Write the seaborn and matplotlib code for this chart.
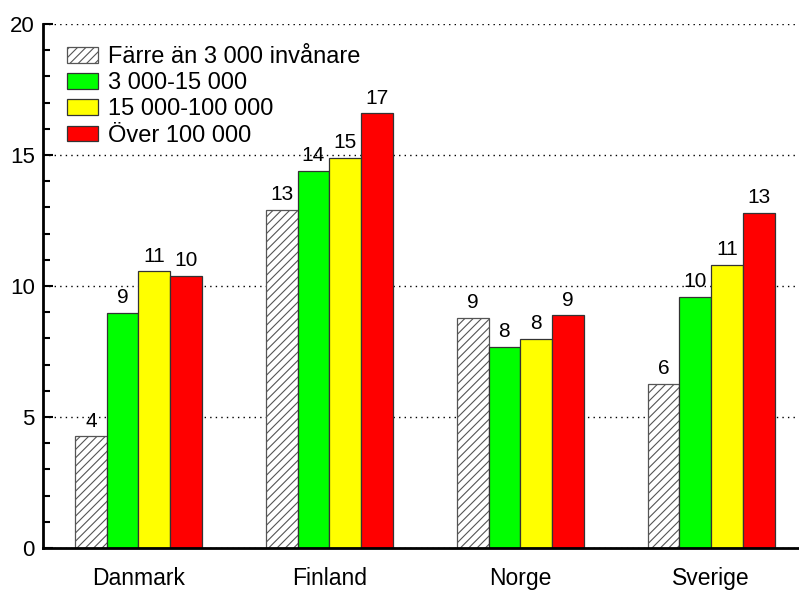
import matplotlib
matplotlib.use("Agg")
import matplotlib.pyplot as plt
import seaborn as sns
import pandas as pd
from matplotlib.ticker import MultipleLocator
from matplotlib.patches import Patch

countries = ["Danmark", "Finland", "Norge", "Sverige"]
groups = ["Färre än 3 000 invånare", "3 000-15 000", "15 000-100 000", "Över 100 000"]
small = [4.27, 12.9, 8.78, 6.26]
mid = [8.97, 14.39, 7.67, 9.58]
large = [10.57, 14.89, 7.98, 10.8]
city = [10.38, 16.6, 8.89, 12.79]
colors = ["white", "#00ff00", "#ffff00", "#ff0000"]

rows = []
for g, vals in zip(groups, [small, mid, large, city]):
    for c, v in zip(countries, vals):
        rows.append({"land": c, "grupp": g, "v": v})
df = pd.DataFrame(rows)

sns.set_style("white")
plt.rcParams["font.family"] = ["Liberation Sans", "DejaVu Sans"]
plt.rcParams["hatch.color"] = "#555555"
plt.rcParams["hatch.linewidth"] = 0.8
for k in ["text.color", "xtick.color", "ytick.color", "axes.labelcolor"]:
    plt.rcParams[k] = "black"

fig = plt.figure(figsize=(7.99, 5.92), dpi=100)
ax = fig.add_axes([0.0538, 0.0743, 0.9462, 0.8852])

sns.barplot(data=df, x="land", y="v", hue="grupp", order=countries, hue_order=groups,
            palette=colors, width=0.665, gap=0, edgecolor="#333333", linewidth=0.9,
            ax=ax, errorbar=None, saturation=1, legend=False)

for p in ax.containers[0].patches:
    p.set_hatch("////")
    p.set_edgecolor("#555555")

for cont in ax.containers:
    ax.bar_label(cont, fmt="%.0f", padding=4, fontsize=15, color="black")

ax.set_ylim(0, 20)
ax.set_xlim(-0.5, 3.46)
ax.yaxis.set_major_locator(MultipleLocator(5))
ax.yaxis.set_minor_locator(MultipleLocator(1))
ax.tick_params(axis="y", which="major", direction="in", length=7.5, width=1.5, labelsize=16, pad=6, left=True, colors="black")
ax.tick_params(axis="y", which="minor", direction="in", length=5, width=1.5, left=True, colors="black")
ax.tick_params(axis="x", length=0, labelsize=16.5, pad=14, colors="black")
ax.grid(axis="y", which="major", linestyle=(0, (1, 3)), color="black", linewidth=1)
ax.set_axisbelow(True)
for s in ["top", "right"]:
    ax.spines[s].set_visible(False)
ax.spines["left"].set_color("black")
ax.spines["left"].set_linewidth(2)
ax.spines["bottom"].set_color("black")
ax.spines["bottom"].set_linewidth(2)
ax.set_xlabel("")
ax.set_ylabel("")

handles = []
for i, (g, col) in enumerate(zip(groups, colors)):
    if i == 0:
        handles.append(Patch(facecolor=col, edgecolor="#555555", hatch="////", linewidth=0.9, label=g))
    else:
        handles.append(Patch(facecolor=col, edgecolor="#333333", linewidth=0.9, label=g))
leg = ax.legend(handles=handles, loc="upper left", bbox_to_anchor=(0.032, 0.958),
                frameon=False, fontsize=17, handlelength=1.3, handleheight=0.65,
                handletextpad=0.45, labelspacing=0.18, borderaxespad=0, borderpad=0)
for t in leg.get_texts():
    t.set_color("black")

fig.savefig("out.png", dpi=100)
